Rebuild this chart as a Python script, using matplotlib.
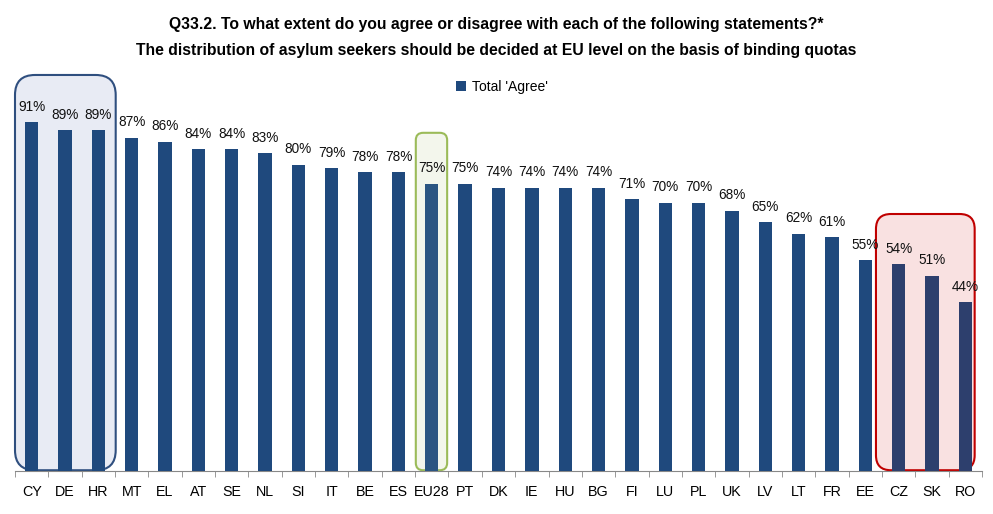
import matplotlib
matplotlib.use("Agg")
import matplotlib.pyplot as plt
from matplotlib.patches import FancyBboxPatch

plt.rcParams['font.family'] = ['Liberation Sans', 'DejaVu Sans']

countries = ["CY", "DE", "HR", "MT", "EL", "AT", "SE", "NL", "SI", "IT", "BE", "ES", "EU28",
             "PT", "DK", "IE", "HU", "BG", "FI", "LU", "PL", "UK", "LV", "LT", "FR", "EE",
             "CZ", "SK", "RO"]
agree = [91, 89, 89, 87, 86, 84, 84, 83, 80, 79, 78, 78, 75,
         75, 74, 74, 74, 74, 71, 70, 70, 68, 65, 62, 61, 55,
         54, 51, 44]

title_lines = ["Q33.2. To what extent do you agree or disagree with each of the following statements?*",
               "The distribution of asylum seekers should be decided at EU level on the basis of binding quotas"]

W, H = 993, 514
fig = plt.figure(figsize=(W / 100, H / 100), dpi=100)
ax_l, ax_r, ax_b, ax_t = 15, 982, 471, 88
ax = fig.add_axes([ax_l / W, (H - ax_b) / H, (ax_r - ax_l) / W, (ax_b - ax_t) / H])
ax.set_xlim(-0.5, len(countries) - 0.5)
ax.set_ylim(0, 100)

colors = []
for c in countries:
    if c == "EU28":
        colors.append("#2B5582")
    elif c in ("CZ", "SK", "RO"):
        colors.append("#2D3F6D")
    else:
        colors.append("#1F497D")

x = list(range(len(countries)))
bars = ax.bar(x, agree, width=0.4, color=colors, zorder=3, label="Total 'Agree'")
for xi, v in zip(x, agree):
    ax.text(xi, v + 2.2, f"{v}%", ha="center", va="bottom", fontsize=9.8, color="#111111", zorder=4)

# highlight boxes (circular corners: pixel aspect of data units)
aspect = (967 / len(countries)) / (383 / 100)

def box(x0, x1, y1, ec, fc, r):
    p = FancyBboxPatch((x0, 0.2), x1 - x0, y1 - 0.2,
                       boxstyle=f"round,pad=0,rounding_size={r}",
                       mutation_aspect=aspect,
                       ec=ec, fc=fc, lw=1.5, zorder=1, clip_on=False)
    ax.add_patch(p)

box(-0.5, 2.52, 103.4, "#2F4F7F", "#E8EBF4", 0.6)
box(11.52, 12.46, 88.3, "#9BBB59", "#F3F6EC", 0.22)
box(25.32, 28.28, 67.1, "#C00000", "#F9E1E1", 0.45)

for s in ("top", "right", "left"):
    ax.spines[s].set_visible(False)
ax.spines["bottom"].set_color("#888888")
ax.set_yticks([])
ax.set_xticks(x)
ax.set_xticklabels(countries, fontsize=10.3)
ax.tick_params(axis="x", which="major", length=0, pad=10)
ax.set_xticks([i - 0.5 for i in range(len(countries) + 1)], minor=True)
ax.tick_params(axis="x", which="minor", length=4, color="#888888")

fig.text(0.5, 1 - 25 / H, title_lines[0], ha="center", va="center", fontsize=11.3, fontweight="bold")
fig.text(0.5, 1 - 50 / H, title_lines[1], ha="center", va="center", fontsize=11.3, fontweight="bold")
leg = fig.legend(handles=[bars], labels=["Total 'Agree'"], loc="center",
                 bbox_to_anchor=(502 / W, 1 - 87 / H), frameon=False, fontsize=10,
                 handlelength=0.7, handleheight=0.7, handletextpad=0.4)

fig.savefig("out.png", dpi=100)
